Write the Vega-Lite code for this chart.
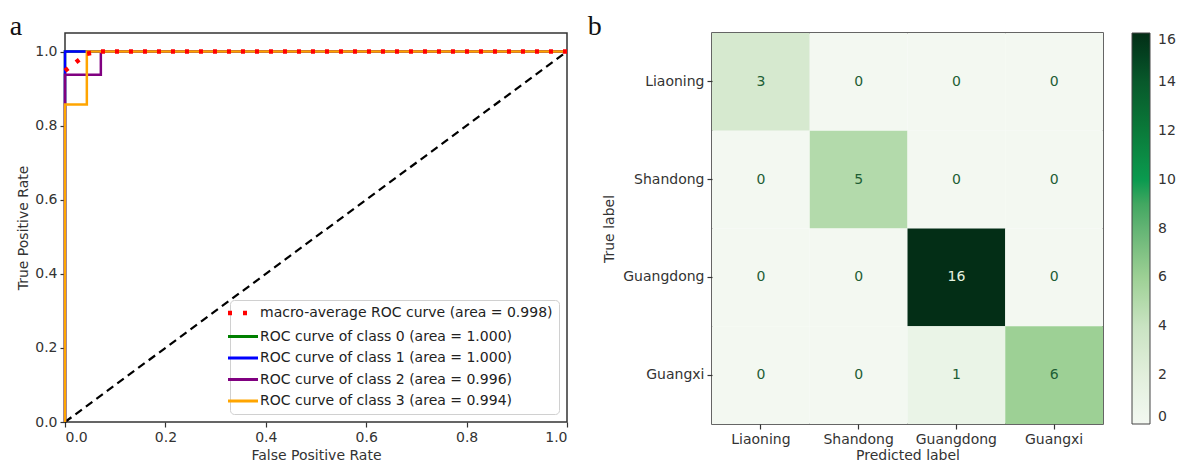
{
  "$schema": "https://vega.github.io/schema/vega-lite/v6.json",
  "background": "white",
  "padding": {"left": 8, "top": 12, "right": 2, "bottom": 0},
  "spacing": 9,
  "config": {
    "font": "DejaVu Sans",
    "axis": {"grid": false, "domain": false, "labelFontSize": 14, "titleFontSize": 14, "titleFontWeight": "normal", "labelColor": "#333", "titleColor": "#333", "tickColor": "#333", "tickSize": 5, "tickWidth": 1.2, "labelPadding": 3, "titlePadding": 4},
    "view": {"stroke": "#333", "strokeWidth": 1.5},
    "title": {"font": "Liberation Serif", "fontSize": 28, "fontWeight": "normal", "anchor": "start", "frame": "bounds", "color": "#111", "baseline": "alphabetic", "offset": -8}
  },
  "datasets": {
    "roc": [
      {"series": "ROC curve of class 0 (area = 1.000)", "idx": 0, "fpr": 0, "tpr": 0},
      {"series": "ROC curve of class 0 (area = 1.000)", "idx": 1, "fpr": 0, "tpr": 1},
      {"series": "ROC curve of class 0 (area = 1.000)", "idx": 2, "fpr": 1, "tpr": 1},
      {"series": "ROC curve of class 1 (area = 1.000)", "idx": 0, "fpr": 0, "tpr": 0},
      {"series": "ROC curve of class 1 (area = 1.000)", "idx": 1, "fpr": 0, "tpr": 1},
      {"series": "ROC curve of class 1 (area = 1.000)", "idx": 2, "fpr": 1, "tpr": 1},
      {"series": "ROC curve of class 2 (area = 0.996)", "idx": 0, "fpr": 0, "tpr": 0},
      {"series": "ROC curve of class 2 (area = 0.996)", "idx": 1, "fpr": 0, "tpr": 0.9375},
      {"series": "ROC curve of class 2 (area = 0.996)", "idx": 2, "fpr": 0.0714, "tpr": 0.9375},
      {"series": "ROC curve of class 2 (area = 0.996)", "idx": 3, "fpr": 0.0714, "tpr": 1},
      {"series": "ROC curve of class 2 (area = 0.996)", "idx": 4, "fpr": 1, "tpr": 1},
      {"series": "ROC curve of class 3 (area = 0.994)", "idx": 0, "fpr": 0, "tpr": 0},
      {"series": "ROC curve of class 3 (area = 0.994)", "idx": 1, "fpr": 0, "tpr": 0.857},
      {"series": "ROC curve of class 3 (area = 0.994)", "idx": 2, "fpr": 0.0435, "tpr": 0.857},
      {"series": "ROC curve of class 3 (area = 0.994)", "idx": 3, "fpr": 0.0435, "tpr": 1},
      {"series": "ROC curve of class 3 (area = 0.994)", "idx": 4, "fpr": 1, "tpr": 1},
      {"series": "macro-average ROC curve (area = 0.998)", "idx": 0, "fpr": 0, "tpr": 0.948},
      {"series": "macro-average ROC curve (area = 0.998)", "idx": 1, "fpr": 0.0435, "tpr": 0.994},
      {"series": "macro-average ROC curve (area = 0.998)", "idx": 2, "fpr": 0.0714, "tpr": 1},
      {"series": "macro-average ROC curve (area = 0.998)", "idx": 3, "fpr": 1, "tpr": 1}
    ],
    "diag": [
      {"fpr": 0, "tpr": 0},
      {"fpr": 1, "tpr": 1}
    ],
    "cm": [
      {"true": "Liaoning", "pred": "Liaoning", "count": 3},
      {"true": "Liaoning", "pred": "Shandong", "count": 0},
      {"true": "Liaoning", "pred": "Guangdong", "count": 0},
      {"true": "Liaoning", "pred": "Guangxi", "count": 0},
      {"true": "Shandong", "pred": "Liaoning", "count": 0},
      {"true": "Shandong", "pred": "Shandong", "count": 5},
      {"true": "Shandong", "pred": "Guangdong", "count": 0},
      {"true": "Shandong", "pred": "Guangxi", "count": 0},
      {"true": "Guangdong", "pred": "Liaoning", "count": 0},
      {"true": "Guangdong", "pred": "Shandong", "count": 0},
      {"true": "Guangdong", "pred": "Guangdong", "count": 16},
      {"true": "Guangdong", "pred": "Guangxi", "count": 0},
      {"true": "Guangxi", "pred": "Liaoning", "count": 0},
      {"true": "Guangxi", "pred": "Shandong", "count": 0},
      {"true": "Guangxi", "pred": "Guangdong", "count": 1},
      {"true": "Guangxi", "pred": "Guangxi", "count": 6}
    ]
  },
  "hconcat": [
    {
      "width": 502,
      "height": 389,
      "title": {"text": "a", "dx": -7},
      "layer": [
        {
          "data": {"name": "diag"},
          "mark": {"type": "line", "color": "black", "strokeDash": [8, 5], "strokeWidth": 2.2},
          "encoding": {
            "x": {"field": "fpr", "type": "quantitative", "scale": {"domain": [0, 1], "nice": false}, "axis": {"values": [0, 0.2, 0.4, 0.6, 0.8, 1.0], "format": ".1f"}, "title": "False Positive Rate"},
            "y": {"field": "tpr", "type": "quantitative", "scale": {"domain": [0, 1.05], "nice": false}, "axis": {"values": [0, 0.2, 0.4, 0.6, 0.8, 1.0], "format": ".1f"}, "title": "True Positive Rate"}
          }
        },
        {
          "data": {"name": "roc"},
          "transform": [{"filter": "datum.series !== 'macro-average ROC curve (area = 0.998)'"}],
          "mark": {"type": "line", "strokeWidth": 2.5, "strokeCap": "butt"},
          "encoding": {
            "x": {"field": "fpr", "type": "quantitative"},
            "y": {"field": "tpr", "type": "quantitative"},
            "order": {"field": "idx", "type": "quantitative"},
            "color": {
              "field": "series", "type": "nominal",
              "scale": {
                "domain": ["macro-average ROC curve (area = 0.998)", "ROC curve of class 0 (area = 1.000)", "ROC curve of class 1 (area = 1.000)", "ROC curve of class 2 (area = 0.996)", "ROC curve of class 3 (area = 0.994)"],
                "range": ["#ff0000", "#008000", "#0000ff", "#800080", "#ffa500"]
              },
              "legend": {
                "title": null, "orient": "bottom-right", "offset": 8, "labelFontSize": 14, "labelColor": "#222", "symbolType": "stroke", "symbolSize": 900, "symbolStrokeWidth": 3, "fillColor": "rgba(255,255,255,0.85)", "strokeColor": "#d0d0d0", "cornerRadius": 4, "padding": 6, "rowPadding": 7.5, "labelOffset": 10, "labelLimit": 400,
                "encode": {"symbols": {"update": {
                  "strokeDash": {"signal": "datum.value === 'macro-average ROC curve (area = 0.998)' ? [4, 11] : [1, 0]"},
                  "strokeWidth": {"signal": "datum.value === 'macro-average ROC curve (area = 0.998)' ? 4.5 : 3"}
                }}}
              }
            }
          }
        },
        {
          "data": {"name": "roc"},
          "transform": [{"filter": "datum.series === 'macro-average ROC curve (area = 0.998)'"}],
          "mark": {"type": "line", "strokeWidth": 4.5, "strokeDash": [4, 10], "strokeCap": "butt"},
          "encoding": {
            "x": {"field": "fpr", "type": "quantitative"},
            "y": {"field": "tpr", "type": "quantitative"},
            "order": {"field": "idx", "type": "quantitative"},
            "color": {"field": "series", "type": "nominal"}
          }
        }
      ]
    },
    {
      "width": 391,
      "height": 391,
      "title": {"text": "b", "dx": -15},
      "data": {"name": "cm"},
      "encoding": {
        "x": {"field": "pred", "type": "nominal", "sort": ["Liaoning", "Shandong", "Guangdong", "Guangxi"], "title": "Predicted label", "axis": {"labelAngle": 0, "titlePadding": 2}},
        "y": {"field": "true", "type": "nominal", "sort": ["Liaoning", "Shandong", "Guangdong", "Guangxi"], "title": "True label", "axis": {"titlePadding": 6}}
      },
      "layer": [
        {
          "mark": {"type": "rect"},
          "encoding": {
            "color": {
              "field": "count", "type": "quantitative",
              "scale": {"domain": [0, 2, 4, 6, 8, 10, 12, 14, 16], "range": ["#f3f8f1", "#e2efdc", "#c9e3c2", "#9dd095", "#63b474", "#0a9a4f", "#0a7a3a", "#08592b", "#032e16"]},
              "legend": {"title": null, "orient": "right", "offset": 29, "direction": "vertical", "gradientLength": 391, "gradientThickness": 18, "values": [0, 2, 4, 6, 8, 10, 12, 14, 16], "labelFontSize": 14, "labelColor": "#333", "labelOffset": 8, "gradientStrokeColor": "#444", "gradientStrokeWidth": 1, "labelBaseline": "middle"}
            }
          }
        },
        {
          "mark": {"type": "text", "fontSize": 14},
          "encoding": {
            "text": {"field": "count", "type": "quantitative"},
            "color": {"condition": {"test": "datum.count > 8", "value": "#e6f2e0"}, "value": "#1e5e35"}
          }
        }
      ]
    }
  ]
}
